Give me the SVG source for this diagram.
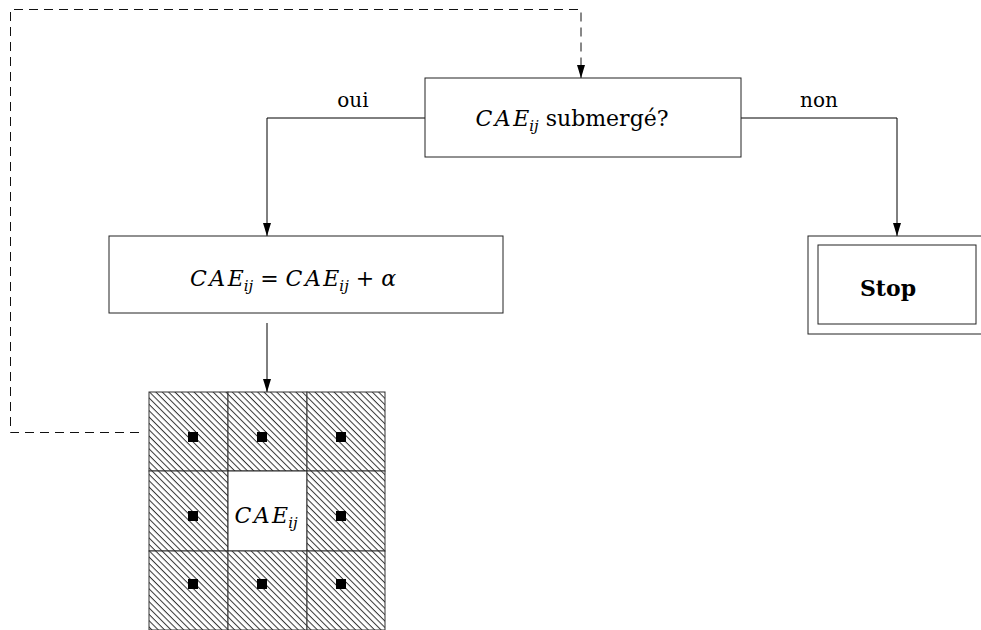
<svg xmlns="http://www.w3.org/2000/svg" width="981" height="630" viewBox="0 0 981 630">
<style>
.box{fill:#fff;stroke:#222;stroke-width:1}
.ln{fill:none;stroke:#000;stroke-width:1}
.dash{fill:none;stroke:#111;stroke-width:1;stroke-dasharray:9,6}
.t{font-family:"DejaVu Serif","Liberation Serif",serif;font-size:22px;fill:#000}
.l{font-size:20px}
.m{font-style:italic;letter-spacing:2.5px}
.e{font-style:italic}
.s{font-size:15px;letter-spacing:0}
.cell{fill:url(#hatch);stroke:#333;stroke-width:1}
.dot{fill:#000}
</style>
<defs>
<marker id="arr" markerWidth="13" markerHeight="8" refX="13" refY="4" orient="auto" markerUnits="userSpaceOnUse" viewBox="0 0 13 8">
<path d="M0,0 L13,4 L0,8 z" fill="#000"/>
</marker>
<pattern id="hatch" patternUnits="userSpaceOnUse" width="20" height="4.5" patternTransform="rotate(45)">
<rect width="20" height="4.5" fill="#fff"/>
<line x1="0" y1="0.5" x2="20" y2="0.5" stroke="#333" stroke-width="1"/>
</pattern>
</defs>

<g id="connectors">
<polyline class="ln" points="425,118 267,118 267,236" marker-end="url(#arr)"/>
<polyline class="ln" points="741,118 897,118 897,236" marker-end="url(#arr)"/>
<line class="ln" x1="267" y1="323" x2="267" y2="392" marker-end="url(#arr)"/>
<polyline class="dash" points="139,432.5 10.5,432.5 10.5,9.5 581,9.5 581,78" marker-end="url(#arr)"/>
<text class="t l" x="353" y="107" text-anchor="middle">oui</text>
<text class="t l" x="819" y="107" text-anchor="middle">non</text>
</g>

<g id="decision">
<rect class="box" x="425" y="78" width="316" height="79"/>
<text class="t" x="572" y="126" text-anchor="middle"><tspan class="m">CA</tspan><tspan class="e">E</tspan><tspan class="e s" dy="5">ij</tspan><tspan dy="-5"> submergé?</tspan></text>
</g>

<g id="update">
<rect class="box" x="109" y="236" width="394" height="77"/>
<text class="t" x="293" y="286" text-anchor="middle"><tspan class="m">CA</tspan><tspan class="e">E</tspan><tspan class="e s" dy="5">ij</tspan><tspan dy="-5"> = </tspan><tspan class="m">CA</tspan><tspan class="e">E</tspan><tspan class="e s" dy="5">ij</tspan><tspan dy="-5"> + </tspan><tspan class="e">α</tspan></text>
</g>

<g id="stop">
<rect class="box" x="808" y="236" width="180" height="98"/>
<rect class="box" x="818" y="245" width="158" height="79"/>
<text class="t" x="888" y="296" text-anchor="middle" font-weight="bold">Stop</text>
</g>

<g id="grid">
<rect class="cell" x="149" y="392" width="79" height="79"/>
<rect class="cell" x="228" y="392" width="79" height="79"/>
<rect class="cell" x="307" y="392" width="78" height="79"/>
<rect class="cell" x="149" y="471" width="79" height="80"/>
<rect class="box" x="228" y="471" width="79" height="80"/>
<rect class="cell" x="307" y="471" width="78" height="80"/>
<rect class="cell" x="149" y="551" width="79" height="79"/>
<rect class="cell" x="228" y="551" width="79" height="79"/>
<rect class="cell" x="307" y="551" width="78" height="79"/>
<rect class="dot" x="188" y="432" width="10" height="10"/>
<rect class="dot" x="257" y="432" width="10" height="10"/>
<rect class="dot" x="336" y="432" width="10" height="10"/>
<rect class="dot" x="188" y="511" width="10" height="10"/>
<rect class="dot" x="336" y="511" width="10" height="10"/>
<rect class="dot" x="188" y="579" width="10" height="10"/>
<rect class="dot" x="257" y="579" width="10" height="10"/>
<rect class="dot" x="336" y="579" width="10" height="10"/>
<text class="t" x="266" y="523" text-anchor="middle"><tspan class="m">CA</tspan><tspan class="e">E</tspan><tspan class="e s" dy="5">ij</tspan></text>
</g>
</svg>
